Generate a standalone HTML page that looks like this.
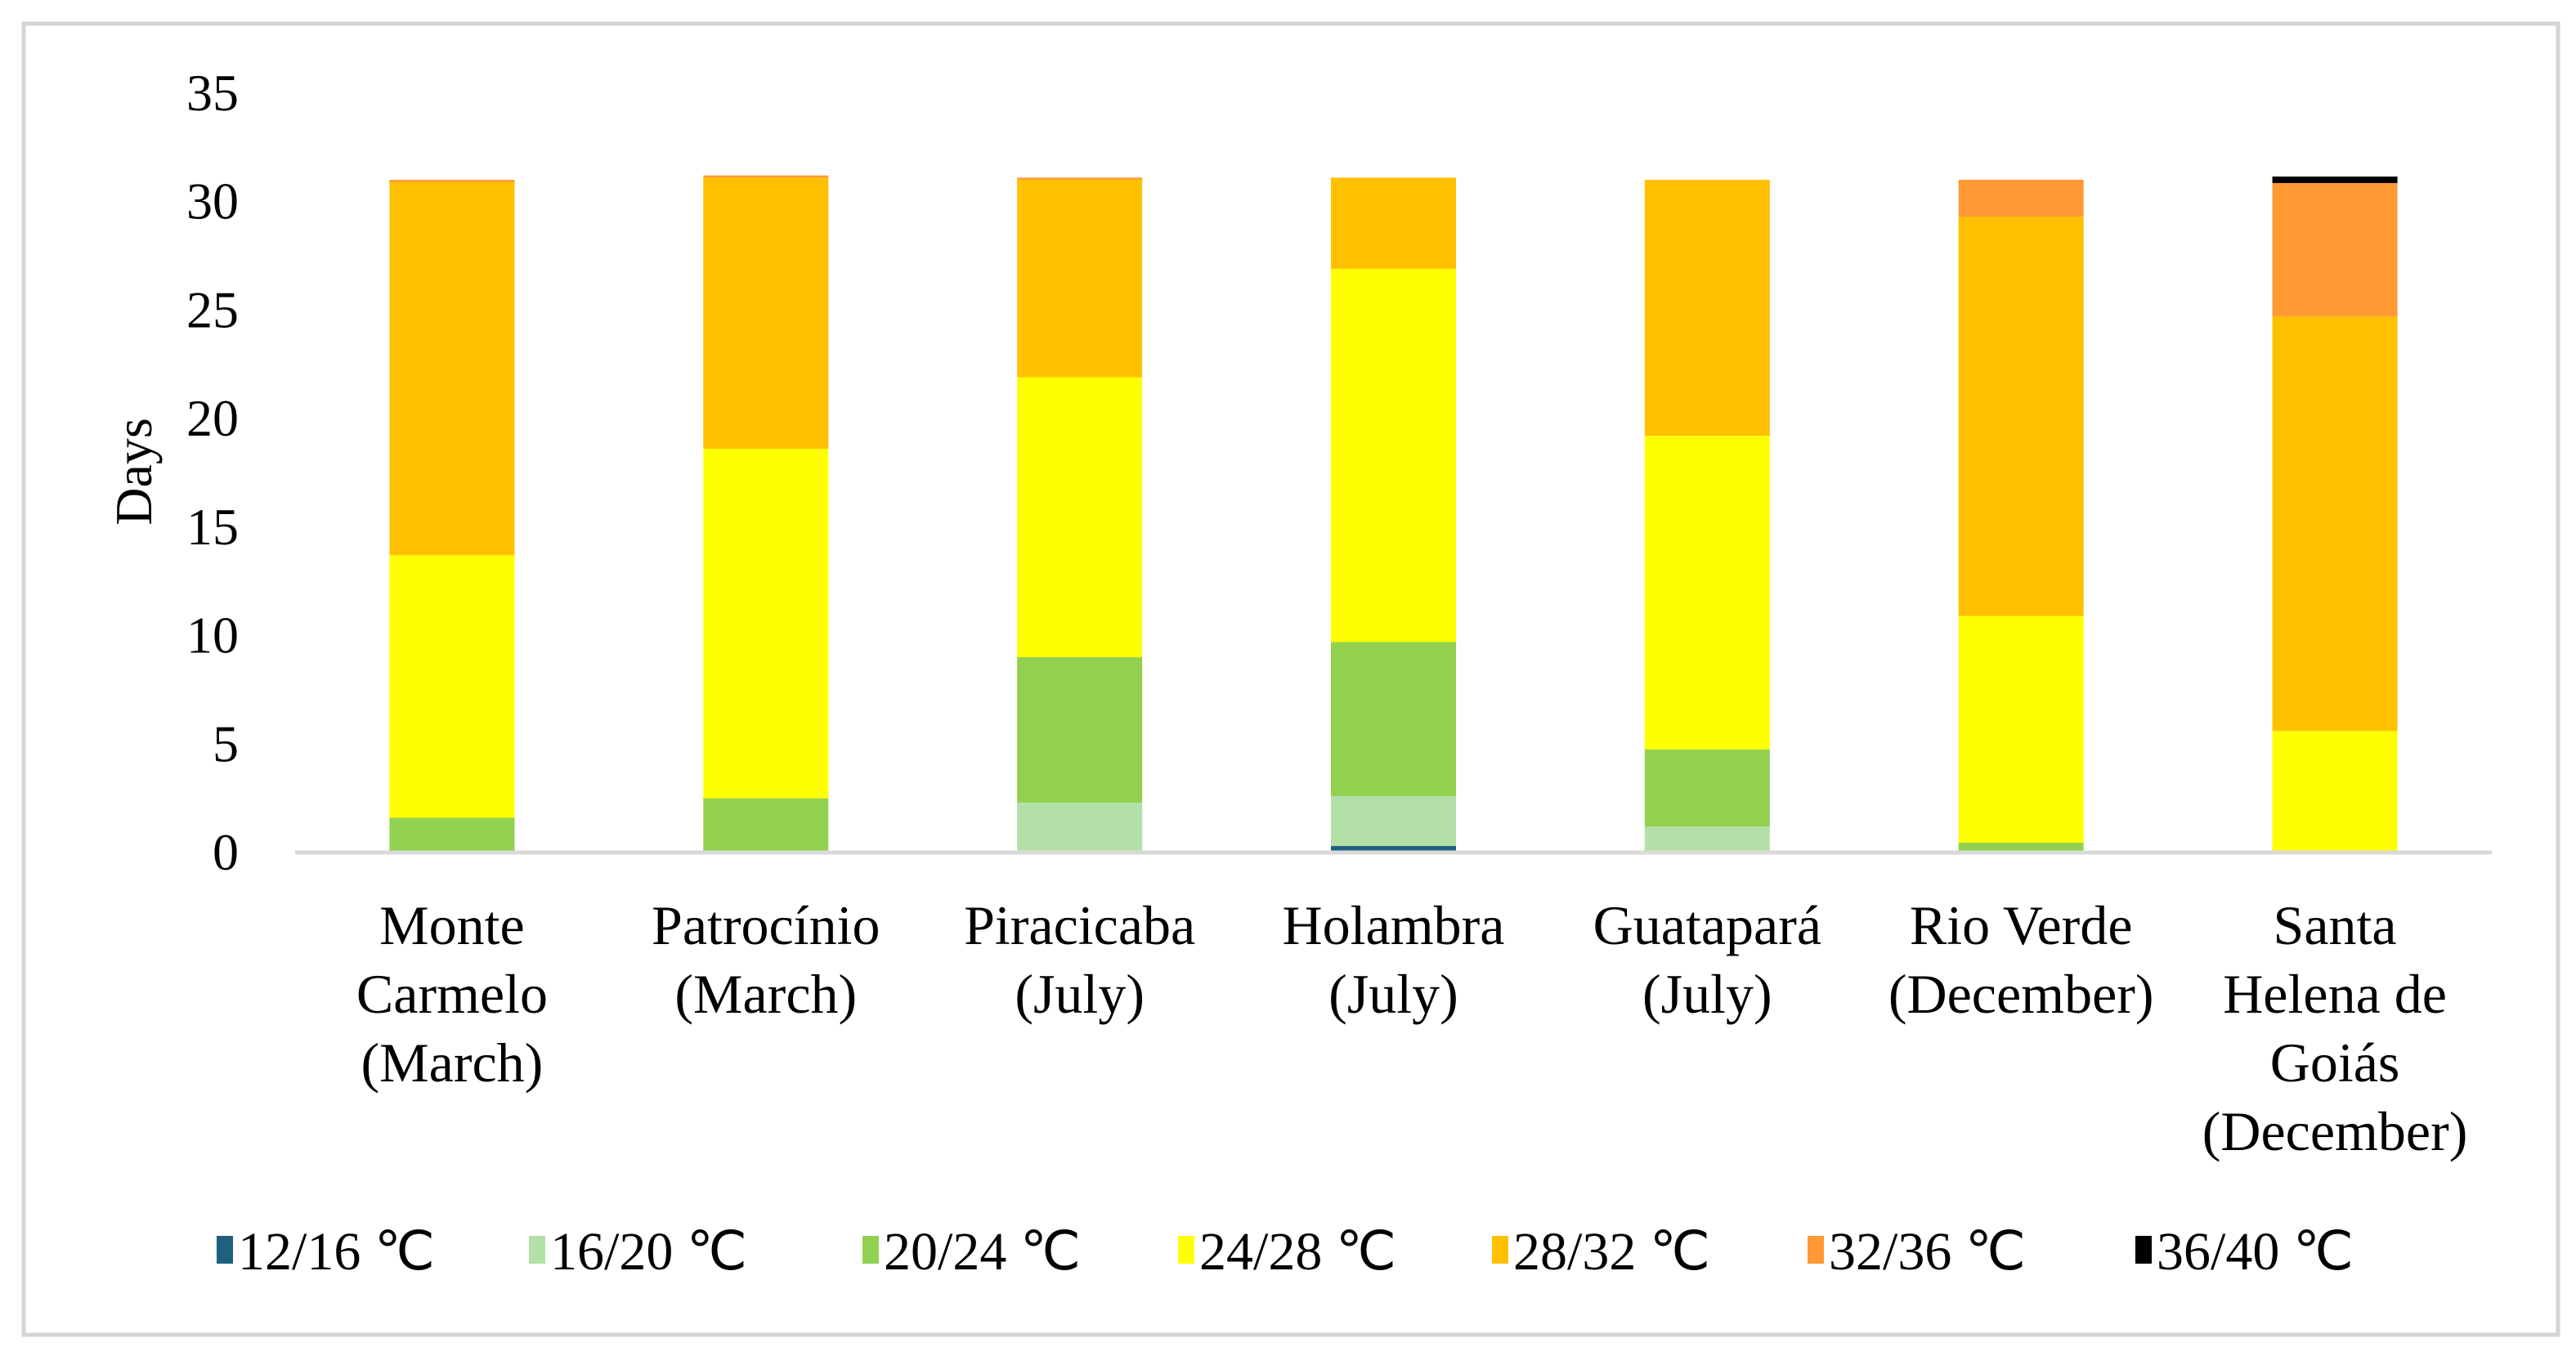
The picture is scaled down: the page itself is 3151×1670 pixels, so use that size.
<!DOCTYPE html>
<html><head><meta charset="utf-8"><style>
html,body{margin:0;padding:0;background:#fff;}
svg text{font-family:"Liberation Serif","Times New Roman",serif;fill:#000;}
</style></head><body>
<svg id="chart" width="3151" height="1665" viewBox="0 0 3151 1665" xmlns="http://www.w3.org/2000/svg">
<rect x="29" y="29" width="3100" height="1604" fill="#fff" stroke="#d4d4d4" stroke-width="5"/>
<g id="grid"></g><g id="bars"></g>
<line x1="361" y1="1043" x2="3048" y2="1043" stroke="#d9d9d9" stroke-width="5"/>
<g id="yticks"></g><g id="xlabels"></g>
<text transform="translate(185,577) rotate(-90)" text-anchor="middle" font-size="64">Days</text>
<g id="legend"></g>
</svg>
<script>
const categories=[["Monte","Carmelo","(March)"],["Patrocínio","(March)"],["Piracicaba","(July)"],["Holambra","(July)"],["Guatapará","(July)"],["Rio Verde","(December)"],["Santa","Helena de","Goiás","(December)"]];
const seriesNames=["12/16 ℃","16/20  ℃","20/24 ℃","24/28 ℃","28/32 ℃","32/36  ℃","36/40 ℃"];
const seriesColors=["#1f5f7f","#b3e0a6","#92d050","#ffff00","#ffc000","#ff9933","#000000"];
const s1216=[0,0,0,0.3,0,0,0];
const s1620=[0,0,2.3,2.3,1.2,0,0];
const s2024=[1.6,2.5,6.7,7.1,3.55,0.45,0];
const s2428=[12.1,16.1,12.9,17.2,14.45,10.45,5.6];
const s2832=[17.2,12.5,9.1,4.2,11.8,18.4,19.1];
const s3236=[0.1,0.1,0.1,0,0,1.7,6.15];
const s3640=[0,0,0,0,0,0,0.3];
const yTicks=[0,5,10,15,20,25,30,35];
const series=[s1216,s1620,s2024,s2428,s2832,s3236,s3640];
const NS="http://www.w3.org/2000/svg";
const x0=361,x1=3048,y0=1043,pxPer=26.55,barW=153;
const yScale=v=>y0-v*pxPer;
const band=(x1-x0)/categories.length;
const xCenter=i=>x0+band*(i+0.5);
function mk(tag,attrs,parent){const e=document.createElementNS(NS,tag);for(const k in attrs)e.setAttribute(k,attrs[k]);parent.appendChild(e);return e;}
const yt=document.getElementById('yticks');
yTicks.forEach(t=>{const e=mk('text',{x:292,y:yScale(t)+21,'text-anchor':'end','font-size':'64'},yt);


e.textContent=t;});
const bars=document.getElementById('bars');
categories.forEach((c,i)=>{let acc=0;
series.forEach((s,k)=>{const v=s[i];if(v>0){const r=mk('rect',{x:xCenter(i)-barW/2,y:yScale(acc+v),width:barW,height:v*pxPer,fill:seriesColors[k]},bars);

}acc+=v;});});
const xl=document.getElementById('xlabels');
categories.forEach((c,i)=>{const t=mk('text',{'text-anchor':'middle','font-size':'68'},xl);


c.forEach((line,j)=>{const ts=mk('tspan',{x:xCenter(i),y:1155+j*84},t);ts.textContent=line;});});
const lg=document.getElementById('legend');
const legX=[265,647,1055,1441,1825,2211,2612];
seriesNames.forEach((n,k)=>{const g=mk('g',{},lg);


mk('rect',{x:legX[k],y:1512,width:20,height:34,fill:seriesColors[k]},g);
const t=mk('text',{x:legX[k]+26,y:1553,'font-size':'66'},g);t.setAttribute('xml:space','preserve');t.textContent=n;});
</script>
</body></html>
